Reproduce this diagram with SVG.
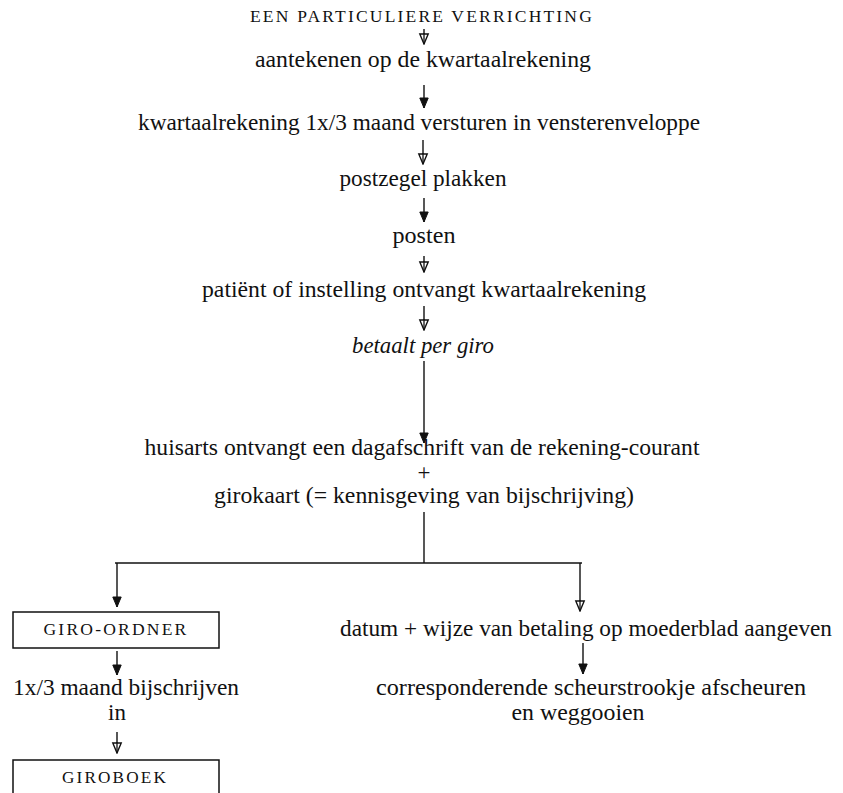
<svg xmlns="http://www.w3.org/2000/svg" width="843" height="793" viewBox="0 0 843 793" font-family="'Liberation Serif', Tinos, 'Times New Roman', 'DejaVu Serif', serif">
<style>
text{font-family:'Liberation Serif',Tinos,'Times New Roman','DejaVu Serif',serif;fill:#111;text-anchor:middle;font-size:23px}
.sc{font-size:16px;letter-spacing:2px}
.it{font-style:italic}
.ln{stroke:#111;stroke-width:1.4;fill:none}
.box{stroke:#111;stroke-width:1.5;fill:none}
</style>
<defs>
<marker id="af" markerUnits="userSpaceOnUse" markerWidth="12" markerHeight="12" refX="11" refY="5" orient="auto" viewBox="0 0 12 10">
<path d="M1,0.8 L11,5 L1,9.2 Z" fill="#111" stroke="#111" stroke-width="1"/>
</marker>
<marker id="ao" markerUnits="userSpaceOnUse" markerWidth="12" markerHeight="12" refX="11" refY="5" orient="auto" viewBox="0 0 12 10">
<path d="M1,0.8 L11,5 L1,9.2 Z" fill="#fff" stroke="#111" stroke-width="1.4"/>
<path d="M0,5 L11,5" stroke="#111" stroke-width="1.3"/>
</marker>
</defs>
<g id="n1"><text class="sc" x="422" y="22" textLength="344" lengthAdjust="spacingAndGlyphs">EEN PARTICULIERE VERRICHTING</text></g>
<g id="n2"><text x="423" y="67" textLength="336" lengthAdjust="spacingAndGlyphs">aantekenen op de kwartaalrekening</text></g>
<g id="n3"><text x="419" y="130" textLength="562" lengthAdjust="spacingAndGlyphs">kwartaalrekening 1x/3 maand versturen in vensterenveloppe</text></g>
<g id="n4"><text x="423" y="186" textLength="167" lengthAdjust="spacingAndGlyphs">postzegel plakken</text></g>
<g id="n5"><text x="424" y="243" textLength="63" lengthAdjust="spacingAndGlyphs">posten</text></g>
<g id="n6"><text x="424" y="297" textLength="444" lengthAdjust="spacingAndGlyphs">patiënt of instelling ontvangt kwartaalrekening</text></g>
<g id="n7"><text class="it" x="423" y="353" textLength="142" lengthAdjust="spacingAndGlyphs">betaalt per giro</text></g>
<g id="n8">
<text x="422" y="455" textLength="555" lengthAdjust="spacingAndGlyphs">huisarts ontvangt een dagafschrift van de rekening-courant</text>
<text x="424" y="480">+</text>
<text x="424" y="503" textLength="420" lengthAdjust="spacingAndGlyphs">girokaart (= kennisgeving van bijschrijving)</text>
</g>
<g id="n9"><rect class="box" x="13" y="612" width="206" height="36"/><text class="sc" x="116" y="635" textLength="145" lengthAdjust="spacingAndGlyphs">GIRO-ORDNER</text></g>
<g id="n10"><text x="126" y="695" textLength="226" lengthAdjust="spacingAndGlyphs">1x/3 maand bijschrijven</text><text x="117" y="720">in</text></g>
<g id="n11"><path class="box" d="M13,800 L13,760 L219,760 L219,800"/><text class="sc" x="115" y="783" textLength="106" lengthAdjust="spacingAndGlyphs">GIROBOEK</text></g>
<g id="n12"><text x="586" y="636" textLength="492" lengthAdjust="spacingAndGlyphs">datum + wijze van betaling op moederblad aangeven</text></g>
<g id="n13"><text x="591" y="695" textLength="430" lengthAdjust="spacingAndGlyphs">corresponderende scheurstrookje afscheuren</text><text x="578" y="720" textLength="133" lengthAdjust="spacingAndGlyphs">en weggooien</text></g>
<g id="connectors">
<line class="ln" x1="424" y1="29" x2="424" y2="44" marker-end="url(#ao)"/>
<line class="ln" x1="424" y1="85" x2="424" y2="108" marker-end="url(#af)"/>
<line class="ln" x1="423" y1="140" x2="423" y2="164" marker-end="url(#ao)"/>
<line class="ln" x1="424" y1="198" x2="424" y2="222" marker-end="url(#af)"/>
<line class="ln" x1="424" y1="256" x2="424" y2="272" marker-end="url(#ao)"/>
<line class="ln" x1="424" y1="306" x2="424" y2="330" marker-end="url(#ao)"/>
<line class="ln" x1="424" y1="361" x2="424" y2="443" marker-end="url(#af)"/>
<line class="ln" x1="424" y1="512" x2="424" y2="563"/>
<line class="ln" x1="115" y1="563" x2="582" y2="563"/>
<line class="ln" x1="117" y1="563" x2="117" y2="607" marker-end="url(#af)"/>
<line class="ln" x1="580" y1="563" x2="580" y2="611" marker-end="url(#ao)"/>
<line class="ln" x1="117" y1="651" x2="117" y2="675" marker-end="url(#af)"/>
<line class="ln" x1="117" y1="732" x2="117" y2="753" marker-end="url(#ao)"/>
<line class="ln" x1="583" y1="643" x2="583" y2="674" marker-end="url(#af)"/>
</g>
</svg>
